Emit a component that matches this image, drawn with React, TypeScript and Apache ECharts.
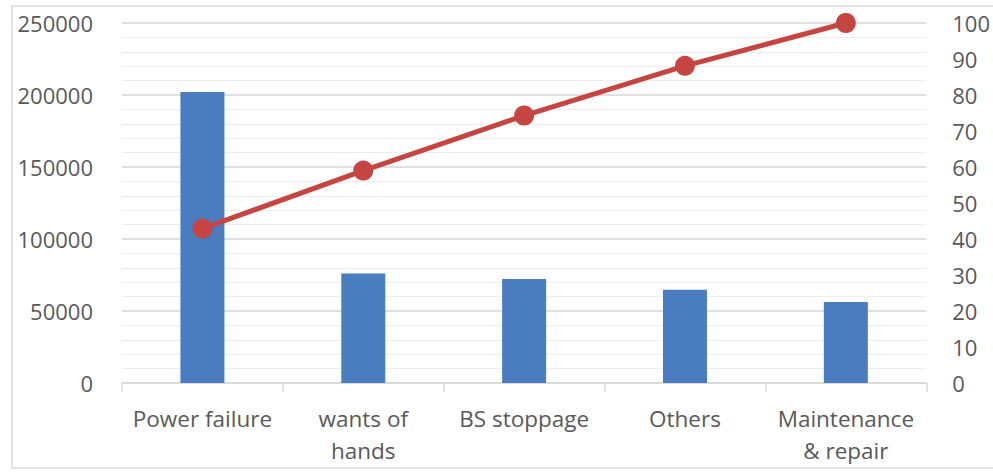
import React, { useEffect, useRef } from "react";
import * as echarts from "echarts";

const categories = ["Power failure", "wants of\nhands", "BS stoppage", "Others", "Maintenance\n& repair"];
const downtime = [202000, 76000, 72200, 64800, 56200];
const cumulativePct = [42.9, 59.0, 74.3, 88.1, 100];

export default function App() {
  const ref = useRef<HTMLDivElement>(null);
  useEffect(() => {
    if (!ref.current) return;
    const chart = echarts.init(ref.current, null, { renderer: "svg" });
    const textColor = "#595959";
    const font = "'Open Sans', sans-serif";
    chart.setOption({
      animation: false,
      backgroundColor: "#ffffff",
      graphic: [
        {
          type: "rect",
          shape: { x: 12, y: 6, width: 1000, height: 462 },
          style: { fill: "none", stroke: "#d9d9d9", lineWidth: 1.5 },
          silent: true,
        },
      ],
      grid: { left: 122, right: 61, top: 23, bottom: 89 },
      xAxis: {
        type: "category",
        data: categories,
        axisLine: { show: true, lineStyle: { color: "#d9d9d9", width: 1.5 } },
        axisTick: { show: true, length: 9, lineStyle: { color: "#d9d9d9", width: 1.5 } },
        axisLabel: {
          color: textColor,
          fontSize: 22.5,
          fontFamily: font,
          lineHeight: 32,
          margin: 19,
          interval: 0,
        },
      },
      yAxis: [
        {
          type: "value",
          min: 0,
          max: 250000,
          interval: 50000,
          axisLine: { show: false },
          axisTick: { show: false },
          axisLabel: {
            color: textColor,
            fontSize: 22,
            fontFamily: font,
            margin: 29,
            formatter: (v: number) => String(v),
          },
          splitLine: { show: true, lineStyle: { color: "#d4d4d4", width: 1.5 } },
          minorTick: { show: false, splitNumber: 5 },
          minorSplitLine: { show: true, lineStyle: { color: "#ededed", width: 1.2 } },
        },
        {
          type: "value",
          min: 0,
          max: 100,
          interval: 10,
          position: "right",
          axisLine: { show: false },
          axisTick: { show: false },
          axisLabel: {
            color: textColor,
            fontSize: 22,
            fontFamily: font,
            margin: 26,
            formatter: (v: number) => String(v),
          },
          splitLine: { show: false },
        },
      ],
      series: [
        {
          type: "bar",
          data: downtime,
          barWidth: 44,
          itemStyle: { color: "#4a7dbf" },
        },
        {
          type: "line",
          yAxisIndex: 1,
          data: cumulativePct,
          symbol: "circle",
          symbolSize: 20,
          lineStyle: { color: "#c44541", width: 5 },
          itemStyle: { color: "#c44541" },
        },
      ],
    });
    return () => chart.dispose();
  }, []);
  return (
    <div
      ref={ref}
      style={{ position: "fixed", left: 0, top: 0, width: 993, height: 472 }}
    />
  );
}
